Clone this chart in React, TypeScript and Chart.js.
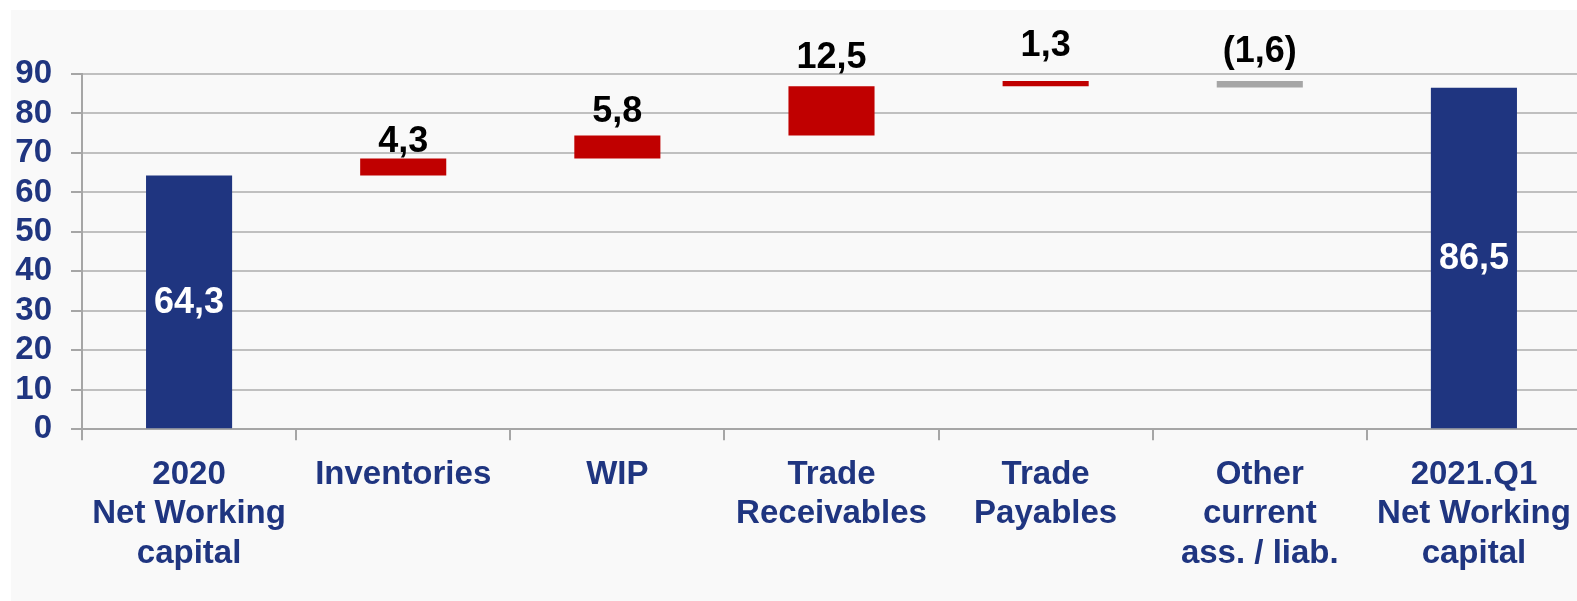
import React, { useEffect, useRef } from "react";
import { Chart, registerables } from "chart.js";

Chart.register(...registerables);

// ---- data ----
const categories: string[][] = [
  ["2020", "Net Working", "capital"],
  ["Inventories"],
  ["WIP"],
  ["Trade", "Receivables"],
  ["Trade", "Payables"],
  ["Other", "current", "ass. / liab."],
  ["2021.Q1", "Net Working", "capital"],
];
const openingTotal = 64.3;
const changes = [4.3, 5.8, 12.5, 1.3, -1.6];
const closingTotal = 86.5;
const changeLabels = ["4,3", "5,8", "12,5", "1,3", "(1,6)"];
const openingLabel = "64,3";
const closingLabel = "86,5";
const yMin = 0;
const yMax = 90;
const yStep = 10;

// ---- styles ----
const BLUE = "#1F3580";
const RED = "#C00000";
const GREY = "#A6A6A6";
const FONT = "'Liberation Sans', Arial, Helvetica, sans-serif";
const changeLabelGap = [6, 14, 18, 25, 19];

function buildRanges() {
  const ranges: [number, number][] = [[0, openingTotal]];
  let run = openingTotal;
  for (const c of changes) {
    ranges.push([run, run + c]);
    run += c;
  }
  ranges.push([0, closingTotal]);
  return ranges;
}

function buildColors() {
  return [BLUE, ...changes.map((c) => (c >= 0 ? RED : GREY)), BLUE];
}

const backgroundPlugin = {
  id: "panelBg",
  beforeDraw(chart: any) {
    const { ctx, width, height } = chart;
    ctx.save();
    ctx.fillStyle = "#FFFFFF";
    ctx.fillRect(0, 0, width, height);
    ctx.fillStyle = "#F9F9F9";
    ctx.fillRect(11, 10, width - 11, height - 10);
    ctx.restore();
  },
};

const labelPlugin = {
  id: "wfLabels",
  afterDatasetsDraw(chart: any) {
    const { ctx } = chart;
    const meta = chart.getDatasetMeta(0);
    const n = meta.data.length;
    ctx.save();
    ctx.font = `bold 36px ${FONT}`;
    ctx.textAlign = "center";
    meta.data.forEach((el: any, i: number) => {
      const top = Math.min(el.y, el.base);
      const bottom = Math.max(el.y, el.base);
      if (i === 0 || i === n - 1) {
        ctx.fillStyle = "#FFFFFF";
        ctx.textBaseline = "middle";
        ctx.fillText(i === 0 ? openingLabel : closingLabel, el.x, (top + bottom) / 2 + 1);
      } else {
        ctx.fillStyle = "#000000";
        ctx.textBaseline = "alphabetic";
        ctx.fillText(changeLabels[i - 1], el.x, top - changeLabelGap[i - 1]);
      }
    });
    ctx.restore();
  },
};

export default function App() {
  const ref = useRef<HTMLCanvasElement | null>(null);

  useEffect(() => {
    if (!ref.current) return;
    const chart = new Chart(ref.current, {
      type: "bar",
      data: {
        labels: categories,
        datasets: [
          {
            data: buildRanges() as any,
            backgroundColor: buildColors(),
            borderWidth: 0,
            barPercentage: 0.402,
            categoryPercentage: 1,
          },
        ],
      },
      options: {
        animation: false,
        responsive: false,
        maintainAspectRatio: false,
        devicePixelRatio: 1,
        layout: { padding: { top: 74, right: 9, bottom: 0, left: 0 } },
        plugins: {
          legend: { display: false },
          tooltip: { enabled: false },
          title: { display: false },
        },
        scales: {
          x: {
            afterFit: (scale: any) => {
              scale.height = 601 - 429.3;
            },
            grid: {
              display: true,
              drawOnChartArea: false,
              drawTicks: true,
              tickLength: 11,
              offset: true,
              color: "#A6A6A6",
              tickColor: "#A6A6A6",
              lineWidth: 2,
            },
            border: { display: true, color: "#A6A6A6", width: 2 },
            ticks: {
              autoSkip: false,
              maxRotation: 0,
              minRotation: 0,
              padding: 15,
              color: BLUE,
              font: { family: FONT, size: 33, weight: "bold", lineHeight: 1.19 },
            },
          },
          y: {
            min: yMin,
            max: yMax,
            afterFit: (scale: any) => {
              scale.width = 82;
            },
            grid: {
              color: "#C0C0C0",
              lineWidth: 2,
              tickLength: 11,
              tickColor: "#A6A6A6",
            },
            border: { display: true, color: "#A6A6A6", width: 2 },
            ticks: {
              stepSize: yStep,
              autoSkip: false,
              maxTicksLimit: 20,
              padding: 19,
              color: BLUE,
              font: { family: FONT, size: 33, weight: "bold", lineHeight: 1 },
            },
          },
        },
      },
      plugins: [backgroundPlugin, labelPlugin],
    });
    return () => chart.destroy();
  }, []);

  return (
    <div
      style={{
        position: "fixed",
        left: 0,
        top: 0,
        width: 1577,
        height: 601,
        overflow: "hidden",
        background: "#FFFFFF",
      }}
    >
      <canvas ref={ref} width={1590} height={601} style={{ display: "block", width: 1590, height: 601 }} />
    </div>
  );
}
